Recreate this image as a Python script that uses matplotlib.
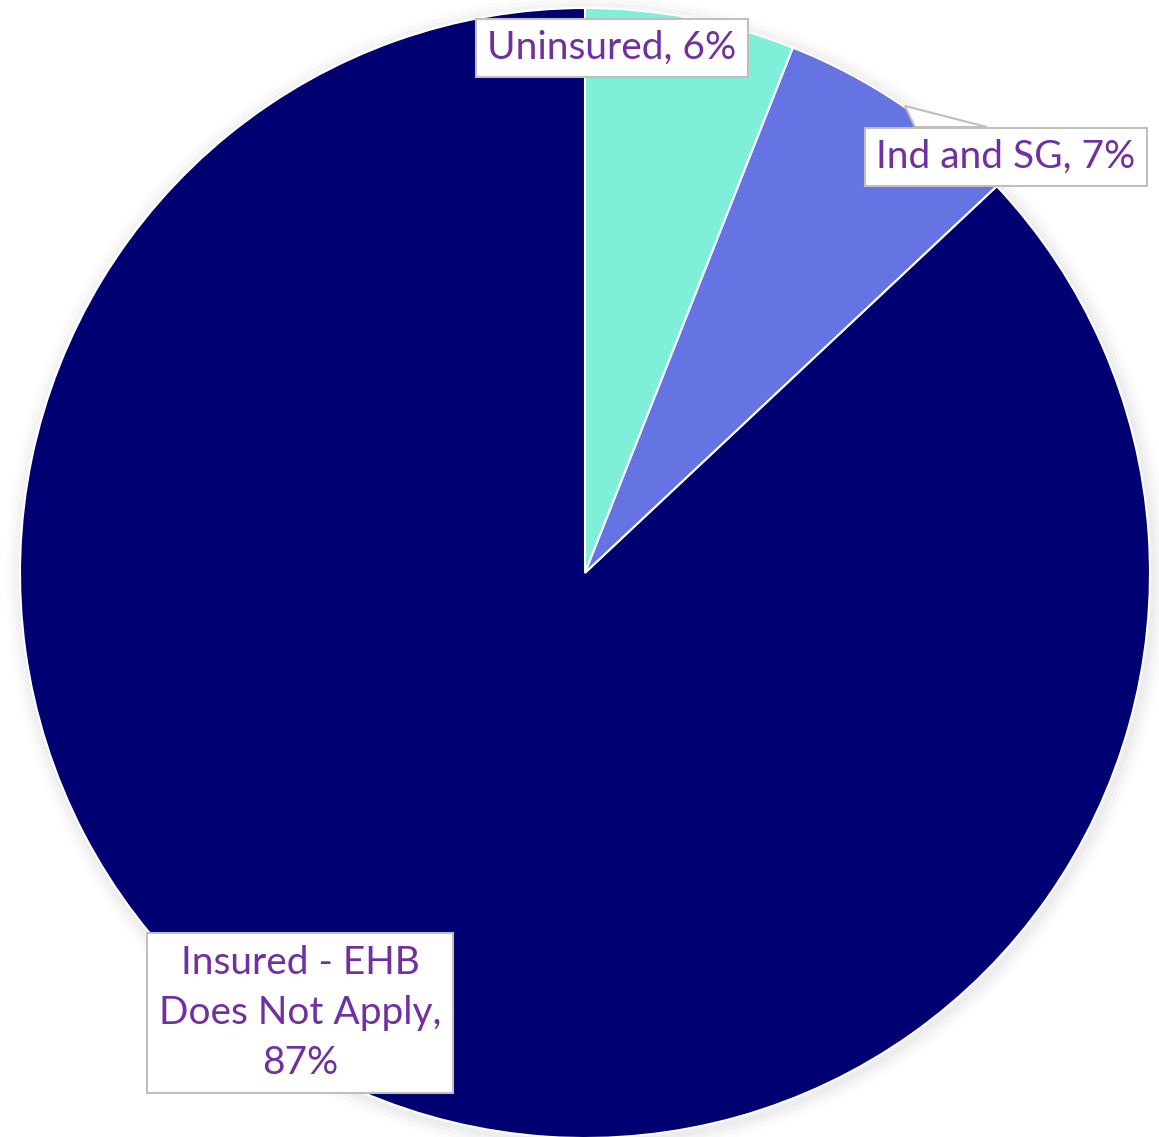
import matplotlib
matplotlib.use("Agg")
import matplotlib.pyplot as plt
from matplotlib.patches import Polygon, Circle

labels = ["Uninsured", "Ind and SG", "Insured - EHB\nDoes Not Apply"]
values = [6, 7, 87]
colors = ["#7FEFD9", "#6674E3", "#000072"]

W, H = 1159, 1137
fig = plt.figure(figsize=(W / 100, H / 100), dpi=100)
ax = fig.add_axes([0, 0, 1, 1])

cx, cy, r = 585, H - 573, 565

# soft shadow
for i, a in enumerate([0.025, 0.02, 0.015, 0.01]):
    ax.add_patch(Circle((cx + 2, cy - 3), r + 4 + i * 4, color="black", alpha=a, lw=0, zorder=0))

ax.pie(values, colors=colors, startangle=90, counterclock=False, center=(cx, cy), radius=r,
       wedgeprops=dict(edgecolor="white", linewidth=1.5), frame=True)
ax.set_xlim(0, W)
ax.set_ylim(0, H)
ax.axis("off")

txt_color = "#7030A0"
font = ["Lato", "DejaVu Sans"]
fs = 28
edge = "#BFBFBF"

# callout pointer for Ind and SG
ax.add_patch(Polygon([(905, H - 106), (987, H - 127), (915, H - 127)], closed=True,
                     facecolor="white", edgecolor=edge, linewidth=1.5, zorder=4))

ax.text(612, H - 48, f"{labels[0]}, {values[0]}%", ha="center", va="center", fontsize=fs,
        color=txt_color, family=font, zorder=5,
        bbox=dict(boxstyle="square,pad=0.28", facecolor="white", edgecolor=edge, linewidth=1.5))
ax.text(1006, H - 157, f"{labels[1]}, {values[1]}%", ha="center", va="center", fontsize=fs,
        color=txt_color, family=font, zorder=5,
        bbox=dict(boxstyle="square,pad=0.28", facecolor="white", edgecolor=edge, linewidth=1.5))
ax.text(300, H - 1013, f"{labels[2]},\n{values[2]}%", ha="center", va="center", fontsize=fs,
        color=txt_color, family=font, linespacing=1.5, zorder=5,
        bbox=dict(boxstyle="square,pad=0.3", facecolor="white", edgecolor=edge, linewidth=1.5))

fig.savefig("out.png", dpi=100)
